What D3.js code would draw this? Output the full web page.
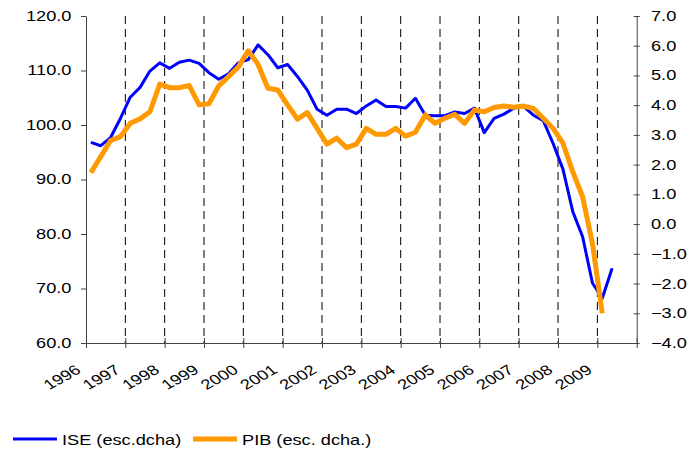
<!DOCTYPE html>
<html>
<head>
<meta charset="utf-8">
<script src="https://cdn.jsdelivr.net/npm/d3@7"></script>
<style>
  body { margin: 0; background: #fff; }
  svg { display: block; }
  text { font-family: "Liberation Sans", Arial, sans-serif; fill: #000; }
</style>
</head>
<body>
<div class="chart"></div>
<script>
// years shown on the axis (each year has 4 quarters)
let years = d3.range(1996, 2010);
let quarters = ["T1", "T2", "T3", "T4"];

// ISE, left scale (quarterly, 1996T1 .. 2009T2)
let ise = [96.8, 96.2, 97.7, 101.2, 105.1, 106.9, 109.9, 111.4, 110.4, 111.5,
  111.9, 111.3, 109.6, 108.4, 109.4, 111.4, 112.0, 114.7, 112.9, 110.5,
  111.1, 108.9, 106.4, 102.9, 101.8, 102.9, 102.9, 102.1, 103.5, 104.6,
  103.4, 103.4, 103.1, 104.9, 101.8, 101.7, 101.7, 102.4, 102.1, 103.1,
  98.6, 101.2, 102.0, 103.1, 103.4, 101.8, 100.8, 96.6, 91.9, 84.1,
  79.5, 71.0, 68.2, 73.7];

// PIB, right scale (quarterly, 1996T1 .. 2009T1)
let pib = [1.73, 2.27, 2.81, 2.94, 3.39, 3.54, 3.78, 4.71, 4.59, 4.59,
  4.66, 4.01, 4.05, 4.65, 4.96, 5.29, 5.83, 5.37, 4.57, 4.51,
  4.01, 3.53, 3.75, 3.22, 2.69, 2.89, 2.57, 2.69, 3.22, 3.02,
  3.02, 3.22, 2.96, 3.09, 3.67, 3.39, 3.56, 3.69, 3.39, 3.84,
  3.78, 3.92, 3.97, 3.93, 3.97, 3.89, 3.56, 3.22, 2.72, 1.76,
  0.92, -0.65, -3.0];

let leftTicks = d3.range(60, 121, 10);
let rightTicks = d3.range(-4, 8, 1);

let legendItems = [
  {name: "ISE (esc.dcha)", color: "#0000ff", width: 3},
  {name: "PIB (esc. dcha.)", color: "#ff9900", width: 5}
];

let config = {
  width: 690,
  height: 450,
  left: 86,
  right: 636.7,
  top: 16,
  bottom: 343,
  stretch: 1.3,
  fontSize: '14px'
};

let categories = [];
years.forEach(y => quarters.forEach(q => categories.push(y + q)));

let svg = d3.select('div.chart').append('svg')
  .attr('width', config.width)
  .attr('height', config.height);

let x = d3.scaleBand()
  .domain(categories)
  .range([config.left, config.right]);

let xYear = d3.scaleLinear()
  .domain([years[0], years[years.length - 1] + 1])
  .range([config.left, config.right]);

let yLeft = d3.scaleLinear()
  .domain([60, 120])
  .range([config.bottom, config.top]);

let yRight = d3.scaleLinear()
  .domain([-4, 7])
  .range([config.bottom, config.top]);

// dashed year separators
svg.append('g').selectAll('line')
  .data(years.slice(1))
  .enter().append('line')
  .attr('x1', d => xYear(d)).attr('x2', d => xYear(d))
  .attr('y1', config.top).attr('y2', config.bottom)
  .attr('stroke', '#000')
  .attr('stroke-width', 1)
  .attr('stroke-dasharray', '8,5');

// left axis
let gLeft = svg.append('g')
  .attr('transform', 'translate(' + config.left + ',0)')
  .call(d3.axisLeft(yLeft).tickValues(leftTicks).tickFormat(d3.format('.1f'))
    .tickSizeInner(5).tickSizeOuter(0));
gLeft.selectAll('text')
  .attr('x', -11.2)
  .attr('transform', 'scale(' + config.stretch + ',1)')
  .style('font-size', config.fontSize);

// right axis
let gRight = svg.append('g')
  .attr('transform', 'translate(' + config.right + ',0)')
  .call(d3.axisRight(yRight).tickValues(rightTicks).tickFormat(d3.format('.1f'))
    .tickSizeInner(3).tickSizeOuter(0));
gRight.selectAll('.tick line').attr('x1', -3);
gRight.selectAll('text')
  .attr('x', 11)
  .attr('transform', 'scale(' + config.stretch + ',1)')
  .style('font-size', config.fontSize);

// bottom axis
let gBottom = svg.append('g')
  .attr('transform', 'translate(0,' + config.bottom + ')')
  .call(d3.axisBottom(xYear).tickValues(d3.range(years[0], years[years.length - 1] + 2))
    .tickFormat('').tickSizeInner(5).tickSizeOuter(0));
gBottom.selectAll('.tick line').attr('y1', -5);

[gLeft, gRight, gBottom].forEach(g => {
  g.select('.domain').attr('stroke', '#444');
  g.selectAll('.tick line').attr('stroke', '#444');
  g.attr('font-family', null).attr('font-size', null);
});

// rotated year labels
svg.append('g').selectAll('text')
  .data(years)
  .enter().append('text')
  .attr('text-anchor', 'end')
  .style('font-size', config.fontSize)
  .attr('transform', d => 'translate(' + (xYear(d) - 4) + ',372) scale(' + config.stretch + ',1) rotate(-36)')
  .text(d => d);

// lines
let lineLeft = d3.line()
  .x((d, i) => x(categories[i]) + x.bandwidth() / 2)
  .y(d => yLeft(d));

let lineRight = d3.line()
  .x((d, i) => x(categories[i]) + x.bandwidth() / 2)
  .y(d => yRight(d));

svg.append('path')
  .attr('d', lineLeft(ise))
  .attr('fill', 'none')
  .attr('stroke', legendItems[0].color)
  .attr('stroke-width', legendItems[0].width)
  .attr('stroke-linejoin', 'round');

svg.append('path')
  .attr('d', lineRight(pib))
  .attr('fill', 'none')
  .attr('stroke', legendItems[1].color)
  .attr('stroke-width', legendItems[1].width)
  .attr('stroke-linejoin', 'round');

// legend
let legendX = [13, 193];
let legend = svg.append('g').selectAll('g')
  .data(legendItems)
  .enter().append('g')
  .attr('transform', (d, i) => 'translate(' + legendX[i] + ',439)');

legend.append('line')
  .attr('x1', 0).attr('x2', 44)
  .attr('stroke', d => d.color)
  .attr('stroke-width', d => d.width);

legend.append('text')
  .attr('transform', 'translate(49,6) scale(' + config.stretch + ',1)')
  .style('font-size', config.fontSize)
  .text(d => d.name);
</script>
</body>
</html>
